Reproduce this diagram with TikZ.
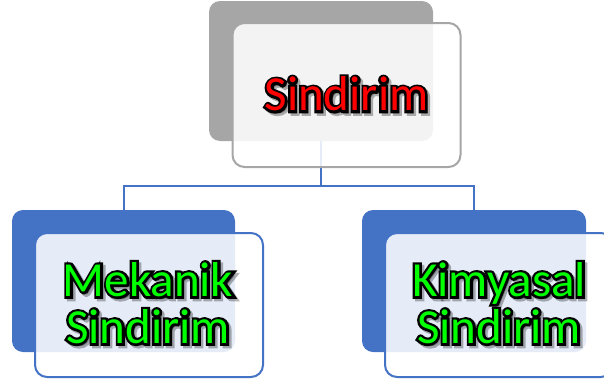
\documentclass[tikz,border=0pt]{standalone}
\usepackage{fontspec}
\setmainfont{Carlito}
\newfontfamily\outlinefont[FakeBold=10]{Carlito}
\usetikzlibrary{calc}
\definecolor{backgray}{HTML}{A6A6A6}
\definecolor{accblue}{HTML}{4472C4}
\definecolor{txtgreen}{HTML}{00FF00}
\definecolor{txtred}{HTML}{FF0000}
\tikzset{
  backbox/.style={rounded corners=11pt, minimum width=#1, minimum height=142pt, inner sep=0pt, outer sep=0pt},
  frontbox/.style={rounded corners=12pt, draw=#1, line width=2pt, fill=white, fill opacity=0.87, minimum width=228pt, minimum height=144pt, inner sep=0pt, outer sep=0pt},
  conn/.style={draw=accblue, line width=2pt},
  lbl/.style={font=\fontsize{49}{47}\selectfont, align=center, inner sep=0pt, outer sep=0pt},
  olbl/.style={font=\outlinefont\fontsize{49}{47}\selectfont, align=center, inner sep=0pt, outer sep=0pt, text=black}
}
\newcommand\otext[4]{%
  \node[olbl,text opacity=0.3] at ($(#2)+(2.5,2.5)$) {#4};
  \node[olbl] at (#2) {#4};
  \node[lbl,text=#3] (#1) at (#2) {#4};}
\begin{document}
\begin{tikzpicture}[x=1pt,y=-1pt]
\useasboundingbox (0,0) rectangle (604,380);
% back boxes
\node[backbox=224pt, fill=backgray, minimum height=140pt] (tb) at (321,71) {};
\node[backbox=223pt, fill=accblue] (lb) at (123.5,281) {};
\node[backbox=224pt, fill=accblue] (rb) at (474,281) {};
% connectors
\coordinate (mid) at (0,186);
\draw[conn] (tb.south) -- (tb.south |- mid) -| (lb.north);
\draw[conn] (tb.south |- mid) -| (rb.north);
% front boxes
\node[frontbox=backgray] (tf) at (346.5,95) {};
\node[frontbox=accblue] (lf) at (149,305) {};
\node[frontbox=accblue] (rf) at (499,305) {};
% texts
\otext{tt}{346.5,94}{txtred}{Sindirim}
\otext{lt}{148,303}{txtgreen}{Mekanik\\Sindirim}
\otext{rt}{499,303}{txtgreen}{Kimyasal\\Sindirim}
\end{tikzpicture}
\end{document}
